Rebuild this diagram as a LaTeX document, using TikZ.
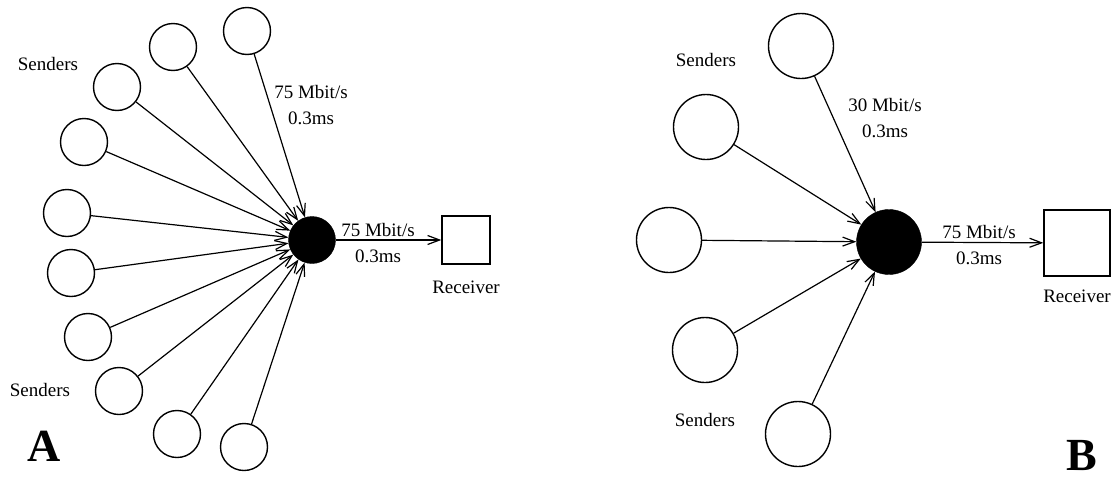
\documentclass[tikz,border=0pt]{standalone}
\usepackage{fontspec}
\setmainfont{Liberation Serif}
\usetikzlibrary{arrows.meta}
\begin{document}
\begin{tikzpicture}[x=1pt,y=-1pt,
  sendA/.style={circle,draw,line width=1.4pt,minimum size=47pt,inner sep=0pt},
  sendB/.style={circle,draw,line width=1.4pt,minimum size=65pt,inner sep=0pt},
  hubA/.style={circle,fill=black,draw=black,minimum size=47pt,inner sep=0pt},
  hubB/.style={circle,fill=black,draw=black,minimum size=65pt,inner sep=0pt},
  recv/.style={draw,line width=1.4pt,minimum size=#1,inner sep=0pt},
  lbl/.style={font=\fontsize{19}{26}\selectfont,align=center,inner sep=0pt},
  big/.style={font=\fontsize{46}{46}\selectfont\bfseries,inner sep=0pt},
  arr/.style={line width=1.2pt,-{Straight Barb[length=12pt,width=9pt]}}
]
\useasboundingbox (0,0) rectangle (1116,477);

% ---------- A ----------
\node[hubA] (hA) at (312,240) {};
\node[recv=48pt] (rA) at (466,240) {};
\node[lbl,anchor=north] (rAl) at (rA.south) [yshift=-16pt] {Receiver};
\foreach \n/\x/\y in {1/247/31,2/173/47,3/117/87,4/84/142,5/67/213,6/71/273,7/88/337,8/119/391,9/177/434,10/244/447}{
  \node[sendA] (a\n) at (\x,\y) {};
  \draw[arr] (a\n) -- (hA);
}
\draw[arr] (hA) -- (rA);
\node[lbl] (sA1) at (48,64) {Senders};
\node[lbl] (sA2) at (40,390) {Senders};
\node[lbl] (lA1) at (311,105) {75 Mbit/s\\0.3ms};
\node[lbl] (lA2) at (378,243) {75 Mbit/s\\0.3ms};
\node[big] (A) at (44,446) {A};

% ---------- B ----------
\node[hubB] (hB) at (889,242) {};
\node[recv=66pt] (rB) at (1077,243) {};
\node[lbl,anchor=north] (rBl) at (rB.south) [yshift=-13pt] {Receiver};
\foreach \n/\x/\y in {1/801/46,2/706/127,3/669/240,4/705/350,5/798/434}{
  \node[sendB] (b\n) at (\x,\y) {};
  \draw[arr] (b\n) -- (hB);
}
\draw[arr] (hB) -- (rB);
\node[lbl] (sB1) at (706,60) {Senders};
\node[lbl] (sB2) at (705,420) {Senders};
\node[lbl] (lB1) at (885,118) {30 Mbit/s\\0.3ms};
\node[lbl] (lB2) at (979,245) {75 Mbit/s\\0.3ms};
\node[big] (B) at (1082,455) {B};
\end{tikzpicture}
\end{document}
